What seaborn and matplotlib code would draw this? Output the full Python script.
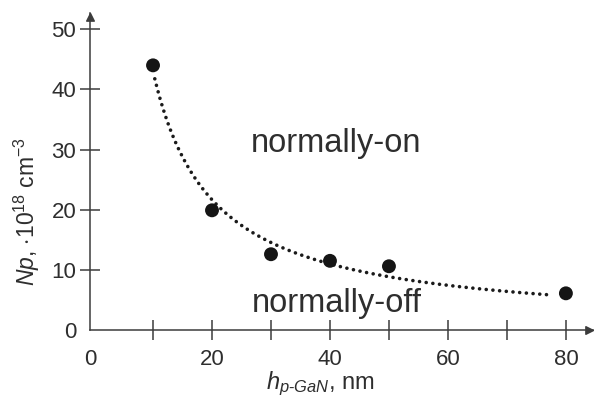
import numpy as np
import pandas as pd
import matplotlib
matplotlib.use('Agg')
import matplotlib.pyplot as plt
import seaborn as sns

# ---- data ----
thickness_nm = [10, 20, 30, 40, 50, 80]
np_density = [44.0, 19.9, 12.6, 11.5, 10.6, 6.1]
x_tick_pos = [10, 20, 30, 40, 50, 60, 70, 80]
x_tick_labels = ['', '20', '', '40', '', '60', '', '80']
y_ticks = [0, 10, 20, 30, 40, 50]
y_tick_labels = ['0', '10', '20', '30', '40', '50']
region_labels = ['normally-on', 'normally-off']

sns.set_theme(style='white')
plt.rcParams['font.family'] = ['Liberation Sans', 'DejaVu Sans']
plt.rcParams['mathtext.fontset'] = 'custom'
plt.rcParams['mathtext.rm'] = 'Liberation Sans'
plt.rcParams['mathtext.it'] = 'Liberation Sans:italic'
plt.rcParams['mathtext.bf'] = 'Liberation Sans:bold'

AX_COL = '#3c3c3c'
TXT_COL = '#2e2e2e'

fig = plt.figure(figsize=(5.95, 3.99), dpi=100)
ax = fig.add_axes([0.1513, 0.1729, 0.8454, 0.7945])

df = pd.DataFrame({'h': thickness_nm, 'Np': np_density})

# trend line: least-squares fit of Np = a/h + c to the points
inv = 1.0 / np.array(thickness_nm, float)
a, c = np.polyfit(inv, np.array(np_density), 1)
xs = np.linspace(10.3, 77.5, 300)
trend = pd.DataFrame({'h': xs, 'Np': a / xs + c})
sns.lineplot(data=trend, x='h', y='Np', ax=ax, color='#1a1a1a', lw=2.6,
             linestyle=(0, (0.01, 1.85)), dash_capstyle='round', zorder=2)
sns.scatterplot(data=df, x='h', y='Np', ax=ax, s=100, color='#151515',
                edgecolor='none', zorder=3, legend=False)

xmin, xmax = -0.68, 84.6
ax.set_xlim(xmin, xmax)
ax.set_ylim(0, 52.7)

for s in ['top', 'right']:
    ax.spines[s].set_visible(False)
for s in ['left', 'bottom']:
    ax.spines[s].set_color(AX_COL)
    ax.spines[s].set_linewidth(1.1)

ax.set_xticks([xmin] + x_tick_pos)
ax.set_xticklabels(['0'] + x_tick_labels)
ax.set_yticks(y_ticks)
ax.set_yticklabels(y_tick_labels)
ax.tick_params(axis='both', which='major', bottom=True, left=True,
               direction='inout', length=14, width=1.1,
               color=AX_COL, labelcolor=TXT_COL, labelsize=16)
ax.tick_params(axis='x', pad=7)
ax.tick_params(axis='y', pad=3)
ax.xaxis.get_major_ticks()[0].tick1line.set_visible(False)
ax.yaxis.get_major_ticks()[0].tick1line.set_visible(False)
ax.set_xlabel('')
ax.set_ylabel('')
ax.grid(False)

# axis arrows
up = [(0, 0), (-0.5, -1), (0.5, -1), (0, 0)]
right = [(0, 0), (-1, -0.5), (-1, 0.5), (0, 0)]
ax.plot([0], [1], marker=up, ms=11, color=AX_COL, transform=ax.transAxes, clip_on=False)
ax.plot([1], [0], marker=right, ms=11, color=AX_COL, transform=ax.transAxes, clip_on=False)

# region labels
ax.text(41.1, 29.6, region_labels[0], ha='center', va='baseline', fontsize=23.5, color=TXT_COL)
ax.text(41.1, 3.0, region_labels[1], ha='center', va='baseline', fontsize=23.5, color=TXT_COL)

# axis titles
fig.text(320 / 595, 10 / 399, r'$h_{p\text{-}GaN}$, nm', ha='center', va='baseline',
         fontsize=17, color=TXT_COL)
fig.text(27 / 595, 1 - 212 / 399, r'$Np$, $\cdot 10^{18}$ cm$^{-3}$', ha='center', va='center',
         rotation=90, fontsize=16.5, color=TXT_COL)

fig.savefig('out.png', dpi=100, facecolor='white')
